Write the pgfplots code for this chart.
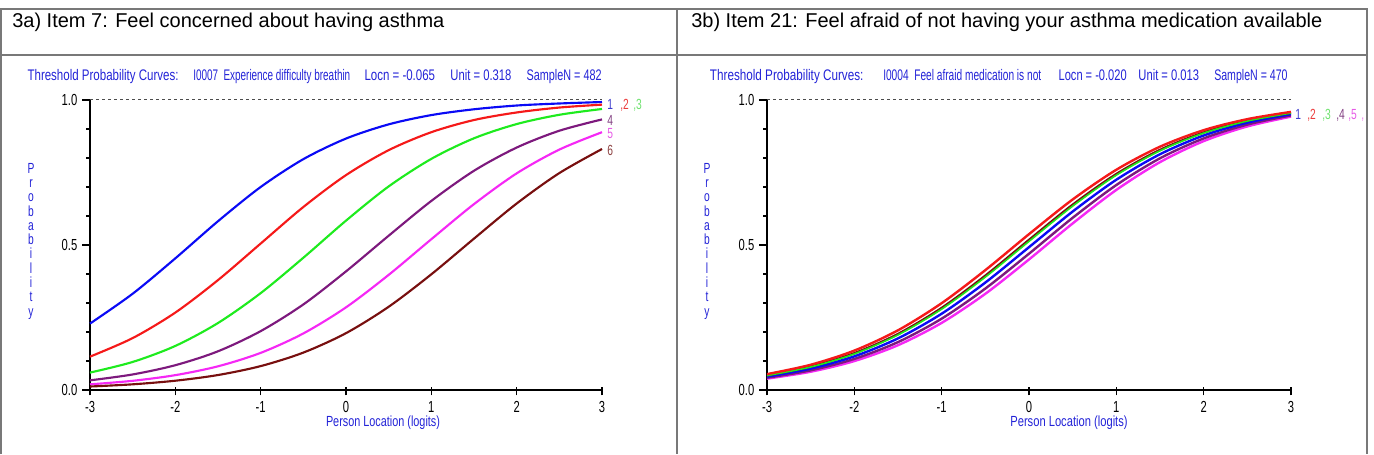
\documentclass[border=0pt]{standalone}
\usepackage{fontspec}
\setmainfont{Liberation Sans}
\newfontfamily\rumm[FakeStretch=0.78]{Liberation Sans}
\newfontfamily\rummtick[FakeStretch=0.70]{Liberation Sans}
\usepackage{graphicx}
\usepackage{pgfplots}
\pgfplotsset{compat=1.18}

\definecolor{framegray}{RGB}{120,120,120}
\definecolor{txtblue}{RGB}{35,35,215}
\definecolor{cA}{RGB}{10,10,245}
\definecolor{cB}{RGB}{245,25,25}
\definecolor{cC}{RGB}{30,235,30}
\definecolor{cD}{RGB}{125,25,125}
\definecolor{cE}{RGB}{245,40,245}
\definecolor{cF}{RGB}{120,15,15}
\definecolor{lA}{RGB}{60,60,205}
\definecolor{lB}{RGB}{235,60,60}
\definecolor{lC}{RGB}{110,225,110}
\definecolor{lD}{RGB}{130,65,130}
\definecolor{lE}{RGB}{230,90,230}
\definecolor{lF}{RGB}{140,65,65}

% threshold probability curves, item I0007 (x = person location, c1..c6 = thresholds 1..6)
\pgfplotstableread{
x     c1     c2     c3     c4     c5     c6
-3.0  0.229  0.115  0.060  0.0333 0.0195 0.0120
-2.5  0.332  0.179  0.0967 0.0536 0.0317 0.0196
-2.0  0.454  0.267  0.152  0.0855 0.0512 0.0320
-1.5  0.582  0.379  0.231  0.1335 0.0817 0.0516
-1.0  0.700  0.505  0.334  0.203  0.128  0.0824
-0.5  0.796  0.631  0.456  0.295  0.195  0.129
 0.0  0.867  0.741  0.584  0.409  0.285  0.196
 0.5  0.916  0.827  0.702  0.532  0.397  0.287
 1.0  0.948  0.889  0.797  0.652  0.520  0.399
 1.5  0.968  0.931  0.868  0.756  0.641  0.522
 2.0  0.981  0.957  0.917  0.836  0.747  0.643
 2.5  0.988  0.974  0.949  0.894  0.829  0.748
 3.0  0.993  0.984  0.969  0.933  0.889  0.831
}\itemA

% threshold probability curves, item I0004
\pgfplotstableread{
x     c1     c2     c3     c4     c5     c6
-3.0  0.0461 0.0547 0.0498 0.0423 0.0392 0.0507
-2.5  0.0738 0.0870 0.0794 0.0678 0.0630 0.0809
-2.0  0.1161 0.1359 0.1245 0.1072 0.0998 0.1267
-1.5  0.178  0.2059 0.190  0.1652 0.1545 0.1931
-1.0  0.2631 0.2994 0.2789 0.246  0.2315 0.2829
-0.5  0.3705 0.4134 0.3894 0.3498 0.3318 0.3941
 0.0  0.4925 0.5374 0.5125 0.470  0.4502 0.5175
 0.5  0.6154 0.657  0.6341 0.5938 0.5744 0.6388
 1.0  0.7251 0.7595 0.7408 0.7068 0.690  0.7446
 1.5  0.813  0.839  0.8249 0.799  0.7858 0.8278
 2.0  0.8776 0.896  0.8859 0.8676 0.8582 0.888
 2.5  0.922  0.934  0.9276 0.9153 0.9089 0.929
 3.0  0.9512 0.959  0.9548 0.9468 0.9427 0.956
}\itemB

\pgfplotsset{
  rummaxis/.style={
    scale only axis, height=217.5pt,
    xmin=-3, xmax=3, ymin=0, ymax=1,
    axis x line=bottom, axis y line=left,
    axis line style={-, line width=1.5pt, black},
    tick align=outside,
    xtick={-3,-2,-1,0,1,2,3}, xticklabels={-3,-2,-1,0,1,2,3},
    ytick={0,0.5,1}, yticklabels={0.0,0.5,1.0},
    minor ytick={0.1,0.2,0.3,0.4,0.6,0.7,0.8,0.9},
    major tick length=6pt, minor tick length=3pt,
    every tick/.style={black, line width=0.9pt},
    xtick style={yshift=2pt},
    ticklabel style={font=\rummtick\fontsize{12}{13}\selectfont, text=black},
    xticklabel style={yshift=1pt},
    clip=false,
  },
  curve/.style={line width=1.6pt, smooth},
}

% text placed in screen-like units: x to the right, y downwards from the top edge
\newcommand\titlepiece[3]{\node[anchor=base west, inner sep=0pt, text=txtblue] at (#1,81)
  {\resizebox{#2}{\height}{\rumm\fontsize{11.5}{13}\selectfont #3}};}
\newcommand\curvelabel[4]{\node[anchor=base west, inner sep=0pt, text=#3,
  font=\rummtick\fontsize{11}{12}\selectfont] at (#1,#2) {#4};}

\begin{document}
\begin{tikzpicture}
\useasboundingbox (0,0) rectangle (1030.5pt,340.5pt);

% ---------- left chart ----------
\begin{axis}[rummaxis, at={(67.5pt,48pt)}, anchor=south west, width=384pt]
  \addplot[black!70, line width=0.75pt, dash pattern=on 2.25pt off 2.25pt] coordinates {(-3,1) (3,1)};
  \addplot[curve, cA] table[x=x, y=c1] {\itemA};
  \addplot[curve, cB] table[x=x, y=c2] {\itemA};
  \addplot[curve, cC] table[x=x, y=c3] {\itemA};
  \addplot[curve, cD] table[x=x, y=c4] {\itemA};
  \addplot[curve, cE] table[x=x, y=c5] {\itemA};
  \addplot[curve, cF] table[x=x, y=c6] {\itemA};
\end{axis}

% ---------- right chart ----------
\begin{axis}[rummaxis, at={(575.25pt,48pt)}, anchor=south west, width=393pt]
  \addplot[black!70, line width=0.75pt, dash pattern=on 2.25pt off 2.25pt] coordinates {(-3,1) (3,1)};
  \addplot[curve, line width=1.8pt, cE] table[x=x, y=c5] {\itemB};
  \addplot[curve, line width=1.8pt, cD] table[x=x, y=c4] {\itemB};
  \addplot[curve, line width=1.8pt, cA] table[x=x, y=c1] {\itemB};
  \addplot[curve, line width=1.8pt, cF] table[x=x, y=c6] {\itemB};
  \addplot[curve, line width=1.2pt, cC] table[x=x, y=c3] {\itemB};
  \addplot[curve, line width=1.8pt, cB] table[x=x, y=c2] {\itemB};
\end{axis}

\begin{scope}[x=0.75pt, y=-0.75pt, yshift=340.5pt]
% table frame
\draw[framegray, line width=1.1pt] (1,454) -- (1,9) -- (1367,9) -- (1367,454);
\draw[framegray, line width=1.1pt] (1,55) -- (1367,55);
\draw[framegray, line width=1.1pt] (677,9) -- (677,454);

% row headings
\node[anchor=base west, inner sep=0pt, font=\fontsize{15}{17}\selectfont] at (12,28)
  {3a) Item 7: Feel concerned about having asthma};
\node[anchor=base west, inner sep=0pt, font=\fontsize{15}{17}\selectfont] at (691,28)
  {3b) Item 21: Feel afraid of not having your asthma medication available};

% left chart captions
\titlepiece{27.3}{113.25pt}{Threshold Probability Curves:}
\titlepiece{193}{117.75pt}{I0007\ \ Experience difficulty breathin}
\titlepiece{364.3}{52.9pt}{Locn = -0.065}
\titlepiece{450.2}{45.75pt}{Unit = 0.318}
\titlepiece{526.4}{56.25pt}{SampleN = 482}

\node[text=txtblue, inner sep=0pt, align=center, anchor=base,
      font=\rummtick\fontsize{11}{10.7}\selectfont] at (31,316)
  {P\\r\\o\\b\\a\\b\\i\\l\\i\\t\\y};
\node[text=txtblue, inner sep=0pt] at (383,423)
  {\resizebox{85.5pt}{\height}{\rumm\fontsize{11}{13}\selectfont Person Location (logits)}};

\curvelabel{607}{110}{lA}{1}
\curvelabel{620}{110}{lB}{,2}
\curvelabel{633}{110}{lC}{,3}
\curvelabel{607}{125.5}{lD}{4}
\curvelabel{607}{139}{lE}{5}
\curvelabel{607}{155.5}{lF}{6}

% right chart captions
\titlepiece{709.7}{115.1pt}{Threshold Probability Curves:}
\titlepiece{883}{118.5pt}{I0004\ \ Feel afraid medication is not}
\titlepiece{1058.4}{51pt}{Locn = -0.020}
\titlepiece{1138.2}{45.5pt}{Unit = 0.013}
\titlepiece{1214}{55pt}{SampleN = 470}

\node[text=txtblue, inner sep=0pt, align=center, anchor=base,
      font=\rummtick\fontsize{11}{10.7}\selectfont] at (707,316)
  {P\\r\\o\\b\\a\\b\\i\\l\\i\\t\\y};
\node[text=txtblue, inner sep=0pt] at (1069,423)
  {\resizebox{88pt}{\height}{\rumm\fontsize{11}{13}\selectfont Person Location (logits)}};

\curvelabel{1295}{120}{lA}{1}
\curvelabel{1307}{120}{lB}{,2}
\curvelabel{1322}{120}{lC}{,3}
\curvelabel{1336}{120}{lD}{,4}
\curvelabel{1348}{120}{lE}{,5}
\curvelabel{1361}{120}{lE!80}{,}
\end{scope}
\end{tikzpicture}
\end{document}
